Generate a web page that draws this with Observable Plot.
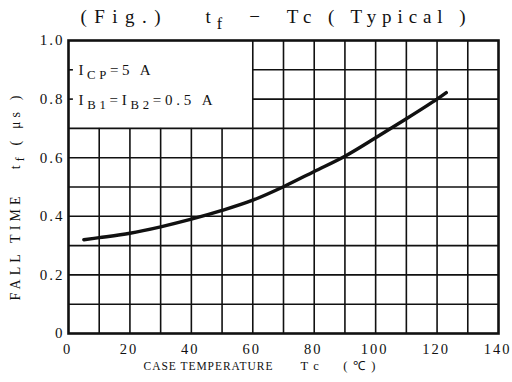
<!DOCTYPE html>
<html><head><meta charset="utf-8">
<script src="https://cdn.jsdelivr.net/npm/d3@7"></script>
<script src="https://cdn.jsdelivr.net/npm/@observablehq/plot@0.6"></script>
<style>
body{margin:0;background:#fff}
svg{font-family:"Liberation Serif",serif}
</style>
</head><body><div id="chart"></div>
<script>
// Data
const caseTemp = [5, 10, 20, 30, 40, 50, 60, 70, 80, 90, 100, 110, 120, 123];
const fallTime = [0.32, 0.327, 0.342, 0.364, 0.39, 0.42, 0.455, 0.501, 0.553, 0.605, 0.668, 0.733, 0.80, 0.822];
const xTicks = [0, 20, 40, 60, 80, 100, 120, 140];
const yTicks = [0, 0.2, 0.4, 0.6, 0.8, 1.0];
const xGrid = [10, 20, 30, 40, 50, 60, 70, 80, 90, 100, 110, 120, 130];
const yGrid = [0.1, 0.2, 0.3, 0.4, 0.5, 0.6, 0.7, 0.8, 0.9];
const boxX = 60;   // legend box right edge (°C)
const boxY = 0.7;  // legend box bottom edge (µs)
const titleFig = "(Fig.)";
const titleMain = "t_{f}  −  Tc ( Typical )";
const xLabelName = "CASE TEMPERATURE";
const xLabelUnit = "Tc  (℃)";
const yLabel = "FALL TIME   t_{f} ( μs )";
const legendLines = ["I_{CP}=5 A", "I_{B1}=I_{B2}=0.5 A"];

const curve = caseTemp.map((t, i) => ({t, v: fallTime[i]}));
const vLines = xGrid.map(x => ({x, y1: 0, y2: x < boxX ? boxY : 1}));
const hLines = yGrid.map(y => ({y, x1: y > boxY + 1e-9 ? boxX : 0, x2: 140}));
const boxTicks = yGrid.filter(y => y > boxY + 1e-9);

const ink = "#111";
const plot = Plot.plot({
  width: 512, height: 382,
  marginLeft: 68, marginRight: 14, marginTop: 40, marginBottom: 49,
  x: {domain: [0, 140]},
  y: {domain: [0, 1]},
  style: {fontFamily: "Liberation Serif, serif", fontSize: "15px", color: ink, background: "#fff"},
  marks: [
    Plot.ruleX(vLines, {x: "x", y1: "y1", y2: "y2", stroke: ink, strokeWidth: 1.6}),
    Plot.ruleY(hLines, {y: "y", x1: "x1", x2: "x2", stroke: ink, strokeWidth: 1.6}),
    Plot.ruleY(boxTicks, {y: d => d, x1: 0, x2: 1.6, stroke: ink, strokeWidth: 1.6}),
    Plot.frame({stroke: ink, strokeWidth: 2.6}),
    Plot.line(curve, {x: "t", y: "v", curve: "catmull-rom", stroke: ink, strokeWidth: 3.4}),
    Plot.axisX(xTicks, {tickSize: 0, tickPadding: 10, fontSize: 14.5, dx: -1, tickFormat: d => String(d), label: null}),
    Plot.axisY(yTicks, {tickSize: 0, tickPadding: 4, fontSize: 15, tickFormat: d => d === 0 ? "0" : d.toFixed(1), label: null}),
    Plot.text([xLabelName], {frameAnchor: "bottom-left", textAnchor: "start", dx: 75, dy: 36, fontSize: 11.5, fill: ink}),
    Plot.text([xLabelUnit], {frameAnchor: "bottom-left", textAnchor: "start", dx: 232, dy: 36, fontSize: 12.5, fill: ink}),
    Plot.text([yLabel], {frameAnchor: "left", textAnchor: "middle", rotate: -90, dx: -53, dy: 11, fontSize: 14, fill: ink}),
    Plot.text([titleFig], {frameAnchor: "top-left", textAnchor: "start", dx: 12, dy: -31, fontSize: 19, fill: ink}),
    Plot.text([titleMain], {frameAnchor: "top-left", textAnchor: "start", dx: 137, dy: -31, fontSize: 19, fill: ink}),
    Plot.text([legendLines[0]], {frameAnchor: "top-left", dx: 10, dy: 24, textAnchor: "start", fontSize: 15, fill: ink}),
    Plot.text([legendLines[1]], {frameAnchor: "top-left", dx: 10, dy: 54, textAnchor: "start", fontSize: 15, fill: ink})
  ]
});

// subscripts: turn "_{..}" into lowered tspans
d3.select(plot).selectAll("text").each(function () {
  const s = this.textContent;
  if (!s.includes("_{")) return;
  this.textContent = "";
  const parts = s.split(/_\{([^}]*)\}/);
  parts.forEach((p, i) => {
    if (!p) return;
    const t = document.createElementNS("http://www.w3.org/2000/svg", "tspan");
    t.textContent = p;
    if (i % 2 === 1) {
      t.setAttribute("baseline-shift", "-0.35em");
      t.setAttribute("font-size", "0.85em");
    }
    this.appendChild(t);
  });
});
const sel = d3.select(plot).selectAll("text");
sel.style("letter-spacing", "2px");
// stretch labels to the widths seen in the reference
const stretch = (prefix, len) => sel.filter(function () { return this.textContent.startsWith(prefix); })
  .style("letter-spacing", "0px").attr("textLength", len).attr("lengthAdjust", "spacing");
stretch("(Fig", 80);
stretch("tf", 260);
stretch("CASE", 129);
stretch("Tc ", 75);
stretch("FALL", 205);
stretch("ICP", 72);
stretch("IB1", 134);

document.getElementById("chart").appendChild(plot);
</script>
</body></html>
